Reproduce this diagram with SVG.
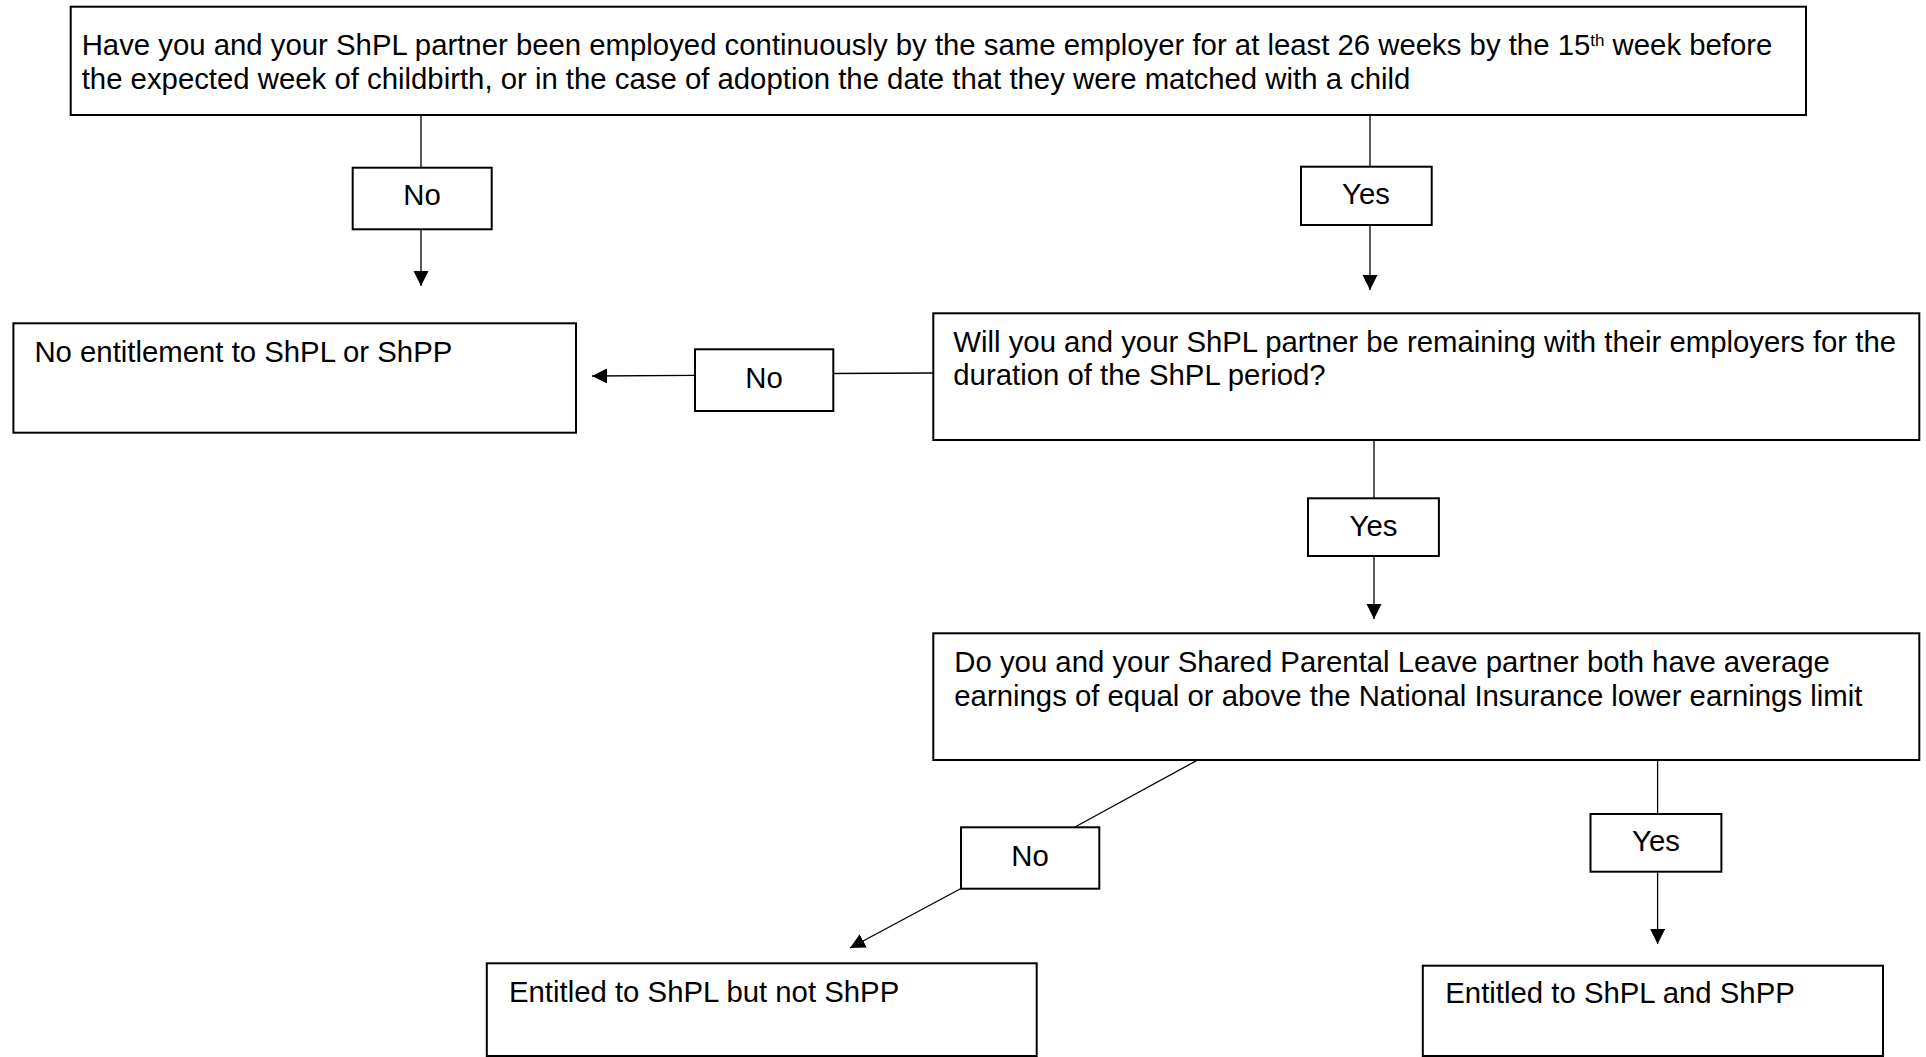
<svg xmlns="http://www.w3.org/2000/svg" width="1926" height="1057" viewBox="0 0 1926 1057">
<defs>
<style>
.box{fill:#fff;stroke:#000;stroke-width:2}
.t{font-family:"Liberation Sans",Arial,sans-serif;font-size:29.33px;fill:#000}
.c{text-anchor:middle}
.ln{fill:none;stroke:#000;stroke-width:1.3}
.ar{marker-end:url(#ah)}
</style>
<marker id="ah" markerUnits="userSpaceOnUse" markerWidth="16" markerHeight="16" refX="15" refY="7.5" orient="auto" viewBox="0 0 16 16">
<path d="M0,0 L15,7.5 L0,15 z" fill="#000"/>
</marker>
</defs>
<rect width="1926" height="1057" fill="#fff"/>
<g id="connectors">
<line class="ln" x1="421" y1="115" x2="421" y2="168"/>
<line class="ln ar" x1="421" y1="229" x2="421" y2="286"/>
<line class="ln" x1="1370" y1="112" x2="1370" y2="167"/>
<line class="ln ar" x1="1370" y1="225" x2="1370" y2="290"/>
<line class="ln" x1="933" y1="373" x2="833" y2="373.5"/>
<line class="ln ar" x1="695" y1="375.3" x2="592" y2="376"/>
<line class="ln" x1="1374" y1="440" x2="1374" y2="498"/>
<line class="ln ar" x1="1374" y1="556" x2="1374" y2="619"/>
<line class="ln" x1="1205" y1="756" x2="1075" y2="827"/>
<line class="ln ar" x1="961" y1="888.5" x2="850" y2="948"/>
<line class="ln" x1="1657.6" y1="756.7" x2="1657.6" y2="814"/>
<line class="ln ar" x1="1657.6" y1="872" x2="1657.6" y2="944"/>
</g>
<g id="q1">
<rect class="box" x="70.7" y="6.7" width="1735.3" height="108.3"/>
<text class="t" x="81.7" y="55">Have you and your ShPL partner been employed continuously by the same employer for at least 26 weeks by the 15<tspan dy="-9" font-size="17">th</tspan><tspan dy="9"> week before</tspan></text>
<text class="t" x="81.7" y="88.7">the expected week of childbirth, or in the case of adoption the date that they were matched with a child</text>
</g>
<g id="no1">
<rect class="box" x="352.7" y="167.7" width="139" height="61.6"/>
<text class="t c" x="422" y="205">No</text>
</g>
<g id="yes1">
<rect class="box" x="1301" y="166.7" width="130.7" height="58.3"/>
<text class="t c" x="1366" y="204">Yes</text>
</g>
<g id="noent">
<rect class="box" x="13.4" y="323.3" width="562.6" height="109.4"/>
<text class="t" x="34.4" y="361.7">No entitlement to ShPL or ShPP</text>
</g>
<g id="no2">
<rect class="box" x="695" y="349.3" width="138.3" height="61.7"/>
<text class="t c" x="764" y="388.3">No</text>
</g>
<g id="q2">
<rect class="box" x="933.3" y="313.3" width="986" height="126.7"/>
<text class="t" x="953.3" y="351.7">Will you and your ShPL partner be remaining with their employers for the</text>
<text class="t" x="953.3" y="384.5">duration of the ShPL period?</text>
</g>
<g id="yes2">
<rect class="box" x="1308" y="498.3" width="130.9" height="57.7"/>
<text class="t c" x="1373.5" y="536">Yes</text>
</g>
<g id="q3">
<rect class="box" x="933.3" y="633.3" width="986" height="126.7"/>
<text class="t" x="954.3" y="671.7">Do you and your Shared Parental Leave partner both have average</text>
<text class="t" x="954.3" y="705.5">earnings of equal or above the National Insurance lower earnings limit</text>
</g>
<g id="no3">
<rect class="box" x="961" y="827.3" width="138.3" height="61.4"/>
<text class="t c" x="1030" y="865.7">No</text>
</g>
<g id="yes3">
<rect class="box" x="1590.5" y="814" width="130.9" height="57.7"/>
<text class="t c" x="1656" y="850.7">Yes</text>
</g>
<g id="ent-no-pay">
<rect class="box" x="486.8" y="963.3" width="549.9" height="92.7"/>
<text class="t" x="509" y="1001.7">Entitled to ShPL but not ShPP</text>
</g>
<g id="ent-both">
<rect class="box" x="1422.8" y="965.7" width="460.2" height="90.3"/>
<text class="t" x="1445.3" y="1003.3">Entitled to ShPL and ShPP</text>
</g>
</svg>
